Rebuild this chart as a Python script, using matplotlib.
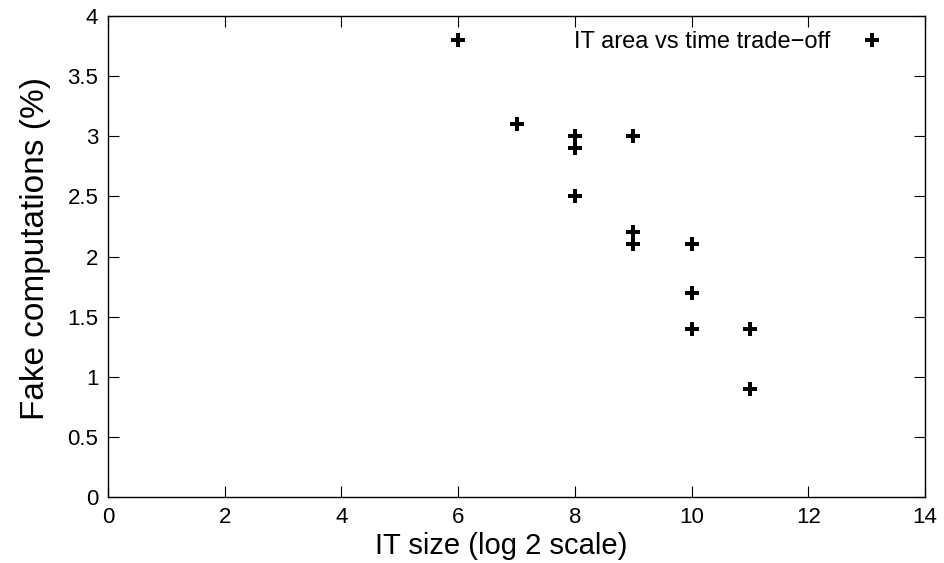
import matplotlib
matplotlib.use("Agg")
import matplotlib.pyplot as plt

plt.rcParams['font.family'] = ['Liberation Sans', 'DejaVu Sans']

# IT size (log2) vs fake computations (%)
it_size = [6, 7, 8, 8, 8, 9, 9, 9, 10, 10, 10, 11, 11]
fake_pct = [3.8, 3.1, 3.0, 2.9, 2.5, 3.0, 2.2, 2.1, 2.1, 1.7, 1.4, 1.4, 0.9]
label = "IT area vs time trade\u2212off"

fig = plt.figure(figsize=(9.44, 5.63), dpi=100)
ax = fig.add_axes([0.1144, 0.1172, 0.8655, 0.8544])

ax.plot(it_size, fake_pct, linestyle="none", marker="P", markersize=9.5,
        color="black", markeredgewidth=0, label=label)

ax.set_xlim(0, 14)
ax.set_ylim(0, 4)
ax.set_xticks(range(0, 15, 2))
ax.set_yticks([0, 0.5, 1, 1.5, 2, 2.5, 3, 3.5, 4])
ax.set_yticklabels(["0", "0.5", "1", "1.5", "2", "2.5", "3", "3.5", "4"])
ax.tick_params(direction="in", top=True, right=True, length=8, width=0.8,
               labelsize=16, pad=7)
ax.set_xticks([12], minor=True)
ax.tick_params(which="minor", direction="inout", length=8, color="red",
               top=False, width=0.8)

for s in ax.spines.values():
    s.set_linewidth(1.0)

ax.set_xlabel("IT size (log 2 scale)", fontsize=21, labelpad=3)
ax.set_ylabel("Fake computations (%)", fontsize=24, labelpad=12)
ax.xaxis.label.set_x(0.481)
ax.yaxis.label.set_y(0.516)

ax.legend(loc="upper right", bbox_to_anchor=(0.9755, 0.9875), frameon=False,
          markerfirst=False, fontsize=17, handletextpad=0.78,
          borderaxespad=0)

fig.savefig("out.png", dpi=100)
